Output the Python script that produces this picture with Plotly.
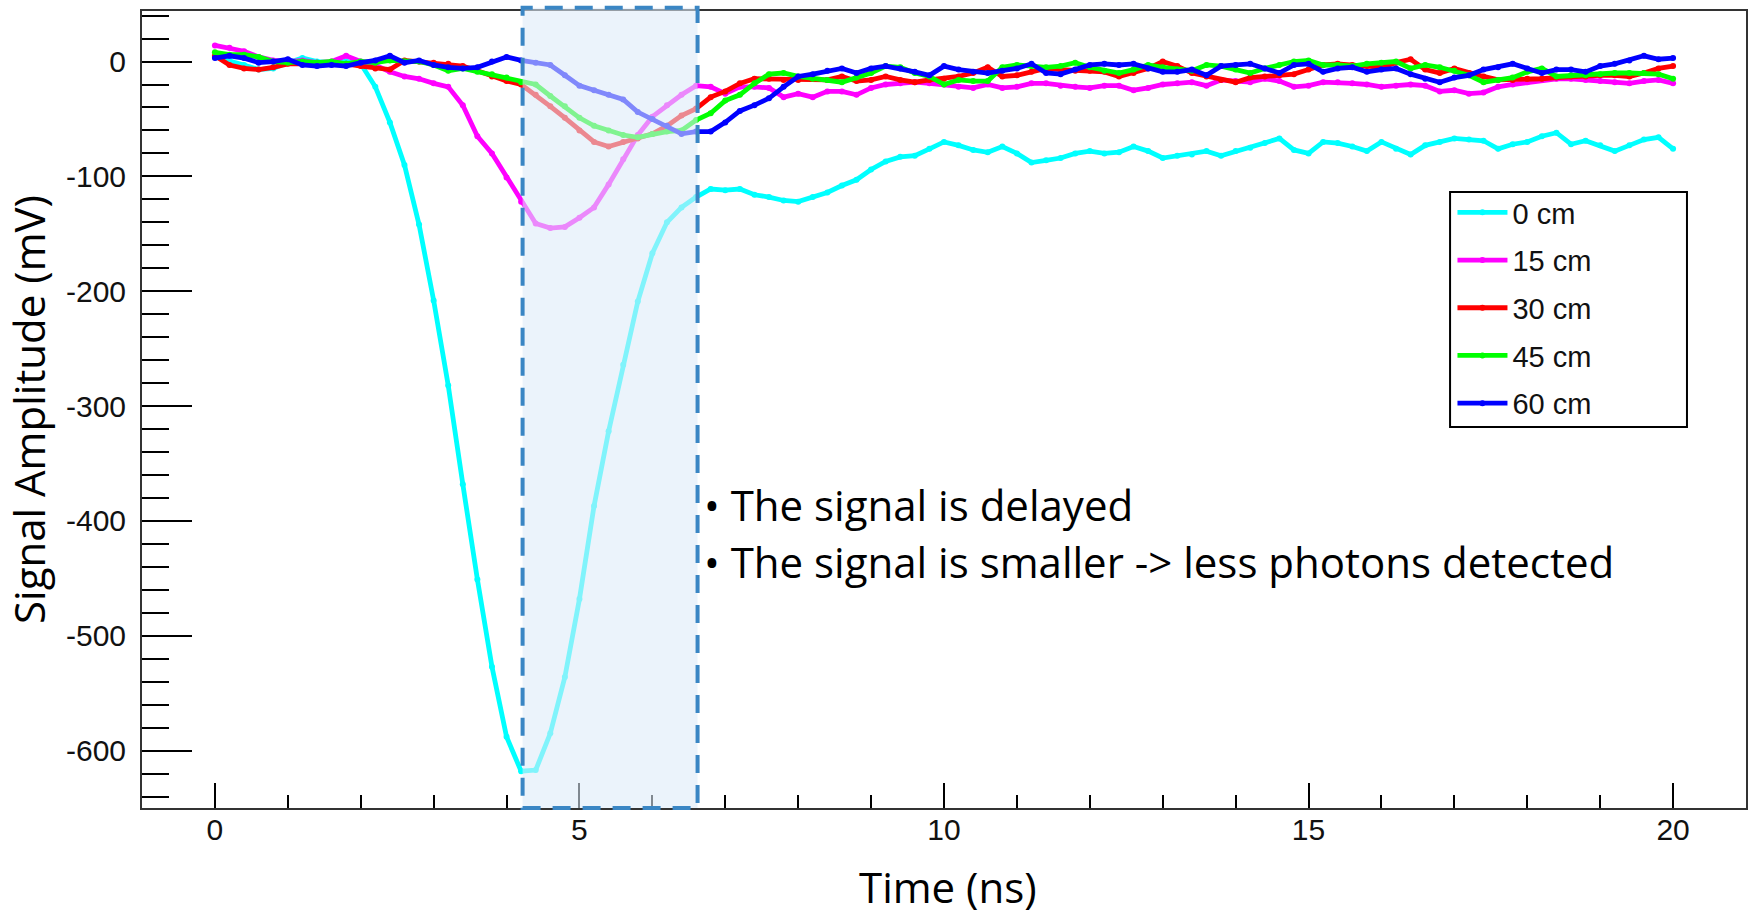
import plotly.graph_objects as go

# Time axis (ns), sampled every 0.2 ns from 0 to 20
time_ns = [round(0.2 * i, 1) for i in range(101)]

series_names = ["0 cm", "15 cm", "30 cm", "45 cm", "60 cm"]
series_colors = ["#00ffff", "#ff00ff", "#ff0000", "#00ff00", "#0000ff"]

amp_0cm = [
    4, 1, -3, -7, -6, -1, 3, 0, -1, 0,
    -2, -22, -53, -90, -142, -208, -282, -368, -451, -527,
    -588, -618, -617, -585, -536, -468, -387, -322, -264, -209,
    -167, -140, -127, -118, -111, -112, -111, -116, -118, -121,
    -122, -118, -114, -108, -103, -94, -87, -83, -82, -76,
    -70, -73, -77, -79, -74, -80, -88, -86, -84, -80,
    -78, -80, -79, -74, -78, -84, -82, -81, -78, -82,
    -78, -75, -71, -67, -77, -80, -70, -71, -74, -78,
    -70, -76, -81, -73, -70, -67, -68, -69, -76, -72,
    -70, -65, -62, -72, -69, -73, -78, -73, -68, -66,
    -76,
]

amp_15cm = [
    14, 12, 9, 4, 1, 0, 1, -1, 0, 5,
    0, -3, -9, -13, -15, -19, -22, -38, -65, -80,
    -101, -122, -141, -145, -144, -136, -127, -107, -85, -64,
    -48, -38, -29, -21, -22, -28, -22, -22, -23, -31,
    -28, -31, -26, -26, -29, -23, -20, -19, -18, -19,
    -20, -22, -23, -20, -23, -22, -19, -19, -21, -22,
    -23, -21, -21, -25, -23, -20, -19, -18, -21, -16,
    -17, -18, -15, -17, -22, -21, -18, -18, -19, -20,
    -22, -21, -20, -21, -26, -25, -28, -27, -22, -20,
    -18, -16, -15, -15, -16, -17, -18, -19, -17, -16,
    -19,
]

amp_30cm = [
    5, -3, -6, -7, -5, -2, -2, -1, -2, -2,
    -4, -6, -7, 1, 0, -1, -2, -4, -8, -13,
    -17, -20, -29, -39, -49, -60, -70, -74, -70, -67,
    -63, -56, -47, -41, -31, -26, -19, -15, -15, -16,
    -16, -15, -16, -13, -17, -16, -13, -16, -18, -16,
    -15, -13, -10, -5, -13, -12, -9, -6, -7, -8,
    -8, -9, -13, -10, -6, 0, -4, -10, -13, -16,
    -18, -14, -13, -12, -11, -7, -3, -2, -3, -4,
    -5, -1, 2, -7, -10, -6, -10, -13, -16, -16,
    -15, -15, -14, -13, -13, -12, -12, -13, -10, -6,
    -4,
]

amp_45cm = [
    8, 6, 6, 4, 0, -1, 0, -1, 0, -2,
    0, -1, 1, 0, 0, -3, -8, -6, -9, -11,
    -14, -18, -20, -30, -39, -49, -56, -60, -64, -66,
    -63, -61, -60, -51, -45, -34, -29, -19, -11, -10,
    -13, -15, -16, -18, -14, -10, -4, -5, -10, -13,
    -20, -16, -17, -17, -5, -3, -4, -5, -4, -1,
    -5, -8, -10, -7, -3, -5, -7, -8, -3, -4,
    -7, -10, -6, -3, 0, 1, -3, -3, -4, -2,
    -1, 0, -6, -3, -5, -8, -12, -18, -16, -14,
    -9, -6, -13, -12, -12, -11, -10, -10, -10, -11,
    -15,
]

amp_60cm = [
    3, 5, 3, -1, 0, 2, -3, -4, -3, -4,
    -1, 1, 5, -1, 1, -3, -5, -6, -5, 0,
    4, 1, -1, -3, -12, -21, -25, -29, -33, -44,
    -50, -56, -63, -61, -61, -53, -43, -38, -32, -22,
    -13, -11, -8, -6, -10, -6, -4, -6, -9, -12,
    -4, -7, -9, -10, -8, -6, -2, -10, -11, -7,
    -3, -2, -3, -2, -6, -9, -9, -7, -12, -4,
    -3, -2, -6, -10, -3, -2, -9, -6, -5, -9,
    -7, -6, -11, -15, -18, -14, -12, -7, -5, -2,
    -6, -10, -7, -7, -9, -4, -2, 1, 5, 2,
    3,
]

series_values = [amp_0cm, amp_15cm, amp_30cm, amp_45cm, amp_60cm]

x_tick_vals = [0, 5, 10, 15, 20]
y_tick_vals = [0, -100, -200, -300, -400, -500, -600]
y_tick_text = ["0", "-100", "-200", "-300", "-400", "-500", "-600"]

highlight_window = [4.22, 6.62]  # ns
notes = ["\u2022 The signal is delayed",
         "\u2022 The signal is smaller -> less photons detected"]
x_title = "Time (ns)"
y_title = "Signal Amplitude (mV)"

fig = go.Figure()
for name, color, vals in zip(series_names, series_colors, series_values):
    fig.add_trace(go.Scatter(
        x=time_ns, y=vals, name=name, legendgroup=name,
        mode="lines+markers",
        line=dict(color=color, width=4.8),
        marker=dict(color=color, size=6),
    ))

# highlighted time window
fig.add_shape(
    type="rect", xref="x", yref="paper",
    x0=highlight_window[0], x1=highlight_window[1], y0=0, y1=1.004,
    fillcolor="rgba(220,234,248,0.58)",
    line=dict(color="#3a86c4", width=4, dash="18px,12px"),
    layer="above",
)
# legend frame
fig.add_shape(
    type="rect", xref="paper", yref="paper",
    x0=0.8155, x1=0.9632, y0=0.478, y1=0.7729,
    fillcolor="white", line=dict(color="black", width=2), layer="above",
)

for txt, yv in zip(notes, [-386, -435]):
    fig.add_annotation(
        x=6.68, y=yv, xref="x", yref="y", text=txt, showarrow=False,
        xanchor="left", yanchor="middle",
        font=dict(family="Open Sans", size=42, color="black"),
    )

tick_font = dict(family="Liberation Sans", size=30, color="#111")
title_font = dict(family="Open Sans", size=42, color="black")

# x-axis title placed below the tick labels
fig.add_annotation(
    x=0.5025, y=-0.098, xref="paper", yref="paper", text=x_title,
    showarrow=False, xanchor="center", yanchor="middle", font=title_font,
)

fig.update_xaxes(
    range=[-1, 21], tickmode="array", tickvals=x_tick_vals,
    ticks="inside", ticklen=25, tickwidth=1.5, tickcolor="black",
    minor=dict(ticks="inside", ticklen=13, tickwidth=1.5, tickcolor="black",
               tickmode="linear", tick0=0, dtick=1),
    showline=True, linecolor="#333", linewidth=2, mirror=True,
    showgrid=False, zeroline=False, tickfont=tick_font,
    ticklabelstandoff=-6, automargin=False,
)
fig.update_yaxes(
    range=[-650, 44], tickmode="array", tickvals=y_tick_vals, ticktext=y_tick_text,
    ticks="inside", ticklen=50, tickwidth=1.5, tickcolor="black",
    minor=dict(ticks="inside", ticklen=27, tickwidth=1.5, tickcolor="black",
               tickmode="linear", tick0=0, dtick=20),
    showline=True, linecolor="#333", linewidth=2, mirror=True,
    showgrid=False, zeroline=False, tickfont=tick_font,
    ticklabelstandoff=8, automargin=False,
    title=dict(text=y_title, font=title_font, standoff=12),
)

fig.update_layout(
    width=1752, height=917,
    margin=dict(l=142, r=6, t=11, b=109),
    paper_bgcolor="white", plot_bgcolor="white",
    font=dict(family="Liberation Sans"),
    showlegend=True,
    legend=dict(
        x=0.817, y=0.7792, xanchor="left", yanchor="top",
        bgcolor="rgba(0,0,0,0)", borderwidth=0,
        font=dict(family="Liberation Sans", size=29, color="#111"),
        tracegroupgap=7, itemwidth=50,
    ),
)

fig.write_html("out.html", config={"displayModeBar": False},
               post_script="document.body.style.margin='0px';")
